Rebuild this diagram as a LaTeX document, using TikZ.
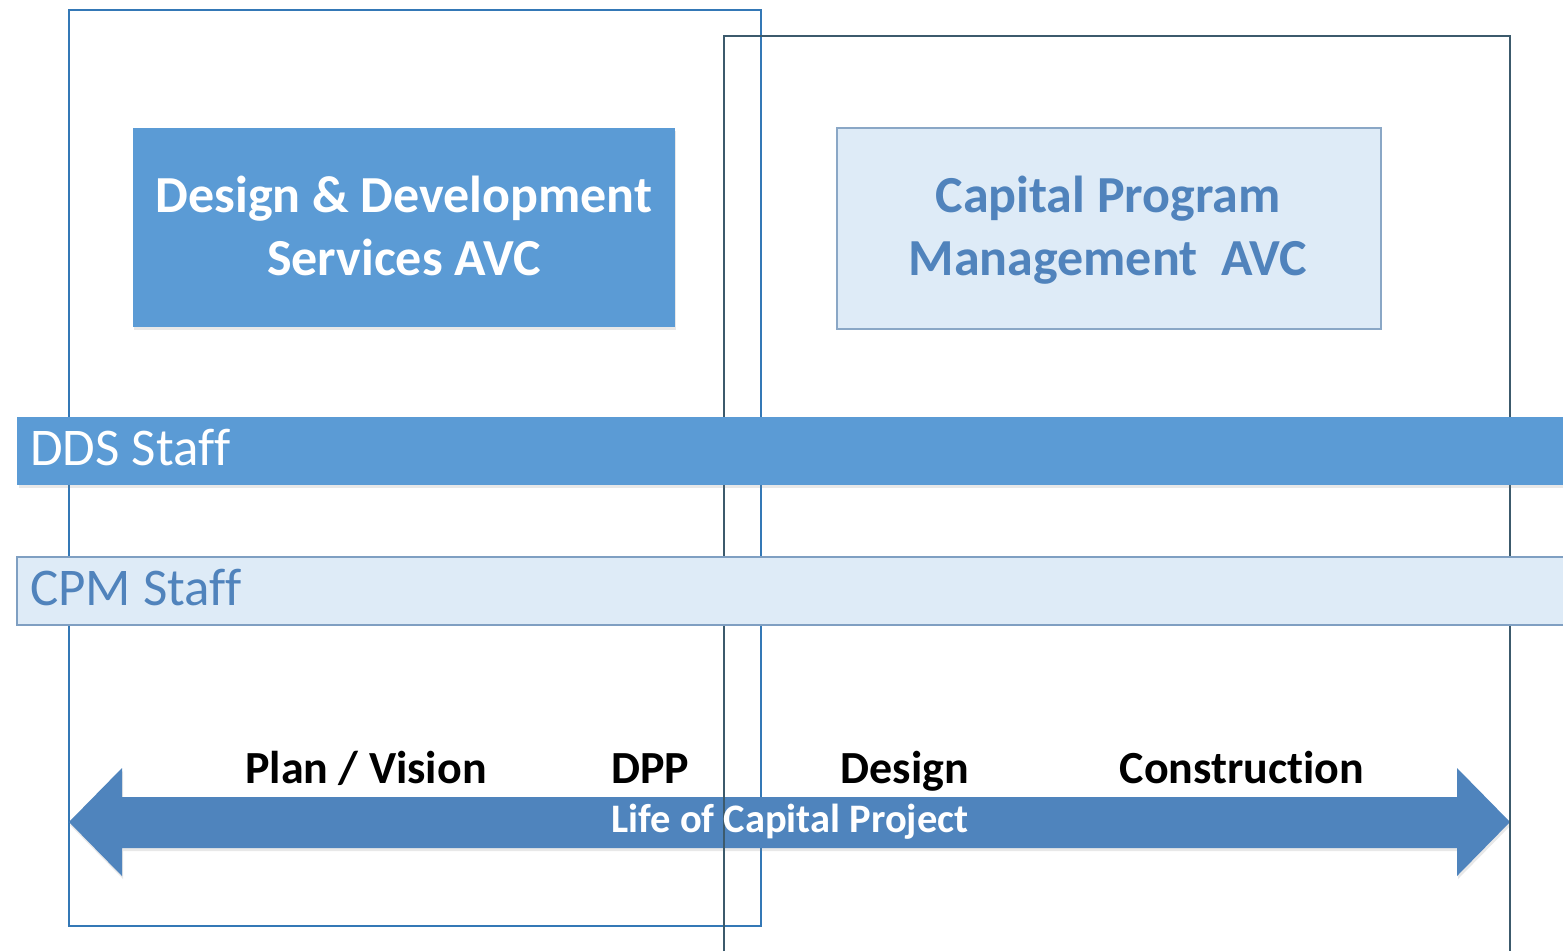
\documentclass[tikz,border=0pt]{standalone}
\usepackage{fontspec}
\setmainfont{Carlito}[Ligatures={NoCommon}]
\usetikzlibrary{shadows}
\definecolor{ddsblue}{HTML}{5B9BD5}
\definecolor{arrowblue}{HTML}{4F84BD}
\definecolor{lightfill}{HTML}{DEEBF7}
\definecolor{cpmtext}{HTML}{5083BC}
\definecolor{staffborder}{HTML}{7F9FC2}
\definecolor{cpmborder}{HTML}{8AA7C6}
\definecolor{leftframe}{HTML}{3478B6}
\definecolor{rightframe}{HTML}{3C5A6C}
\tikzset{
  x=1pt, y=-1pt,
  softshadow/.style={drop shadow={opacity=0.18, shadow xshift=1pt, shadow yshift=-3pt}},
  boxtext/.style={font=\fontsize{52}{63}\selectfont\bfseries, anchor=base, inner sep=0pt},
  stafftext/.style={font=\fontsize{53}{63}\selectfont, anchor=base west, inner sep=0pt},
  phase/.style={font=\fontsize{46}{55}\selectfont\bfseries, anchor=base, inner sep=0pt, text=black},
}
\begin{document}
\begin{tikzpicture}
\useasboundingbox[fill=white] (0,0) rectangle (1563,951);
% left frame
\draw[leftframe, line width=2pt] (69,10) rectangle (761,926);
% life arrow
\fill[arrowblue, softshadow] (69,822) -- (122,768) -- (122,797) -- (1457,797) -- (1457,768)
  -- (1510,822) -- (1457,876) -- (1457,848) -- (122,848) -- (122,876) -- cycle;
% right frame
\draw[rightframe, line width=2pt] (724,951) -- (724,36) -- (1510,36) -- (1510,951);
\node[font=\fontsize{40.5}{48}\selectfont\bfseries, text=white, anchor=base, inner sep=0pt] (life) at (790,832) {Life of Capital Project};
% staff bars
\node[fill=ddsblue, draw=ddsblue, line width=1pt, minimum width=1546pt, minimum height=67pt, inner sep=0pt, anchor=north west, softshadow] (ddsbar) at (17,417) {};
\node[stafftext, text=white] (ddslbl) at (30,465) {DDS Staf\kern0ptf};
\node[fill=lightfill, draw=staffborder, line width=1.5pt, minimum width=1560pt, minimum height=68pt, inner sep=0pt, anchor=north west] (cpmbar) at (16,556) {};
\node[stafftext, text=cpmtext] (cpmlbl) at (30,605) {CPM Staf\kern0ptf};
% AVC boxes
\node[fill=ddsblue, minimum width=542pt, minimum height=199pt, inner sep=0pt, anchor=north west, softshadow] (ddsbox) at (133,128) {};
\node[boxtext, text=white] (dds1) at (404,212) {Design \& Development};
\node[boxtext, text=white] (dds2) at (404,275) {Services AVC};
\node[fill=lightfill, draw=cpmborder, line width=1.5pt, minimum width=544pt, minimum height=201pt, inner sep=0pt, anchor=north west] (cpmbox) at (836,127) {};
\node[boxtext, text=cpmtext] (cpm1) at (1108,212) {Capital Program};
\node[boxtext, text=cpmtext] (cpm2) at (1108,275) {Management\ \ AVC};
% phases
\node[phase] (plan) at (366,783) {Plan / Vision};
\node[phase] (dpp) at (650,783) {DPP};
\node[phase] (design) at (905,783) {Design};
\node[phase] (constr) at (1242,783) {Construc\kern0pt tion};
\end{tikzpicture}
\end{document}
